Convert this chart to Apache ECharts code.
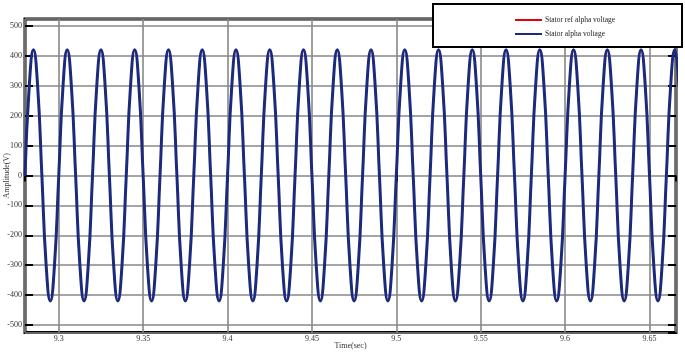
<!DOCTYPE html>
<html>
<head>
<meta charset="utf-8">
<script src="https://cdn.jsdelivr.net/npm/echarts@6/dist/echarts.min.js"></script>
<style>
html,body{margin:0;padding:0;background:#fff;}
#chart{width:685px;height:354px;}
</style>
</head>
<body>
<div id="chart"></div>
<script>
// sample times (s)
const timeSec = [
9.28,9.2825,9.285,9.2875,9.29,9.2925,9.295,9.2975,
9.30,9.3025,9.305,9.3075,9.31,9.3125,9.315,9.3175,
9.32,9.3225,9.325,9.3275,9.33,9.3325,9.335,9.3375,
9.34,9.3425,9.345,9.3475,9.35,9.3525,9.355,9.3575,
9.36,9.3625,9.365,9.3675,9.37,9.3725,9.375,9.3775,
9.38,9.3825,9.385,9.3875,9.39,9.3925,9.395,9.3975,
9.40,9.4025,9.405,9.4075,9.41,9.4125,9.415,9.4175,
9.42,9.4225,9.425,9.4275,9.43,9.4325,9.435,9.4375,
9.44,9.4425,9.445,9.4475,9.45,9.4525,9.455,9.4575,
9.46,9.4625,9.465,9.4675,9.47,9.4725,9.475,9.4775,
9.48,9.4825,9.485,9.4875,9.49,9.4925,9.495,9.4975,
9.50,9.5025,9.505,9.5075,9.51,9.5125,9.515,9.5175,
9.52,9.5225,9.525,9.5275,9.53,9.5325,9.535,9.5375,
9.54,9.5425,9.545,9.5475,9.55,9.5525,9.555,9.5575,
9.56,9.5625,9.565,9.5675,9.57,9.5725,9.575,9.5775,
9.58,9.5825,9.585,9.5875,9.59,9.5925,9.595,9.5975,
9.60,9.6025,9.605,9.6075,9.61,9.6125,9.615,9.6175,
9.62,9.6225,9.625,9.6275,9.63,9.6325,9.635,9.6375,
9.64,9.6425,9.645,9.6475,9.65,9.6525,9.655,9.6575,
9.66,9.6625,9.665,9.6675
];
// Stator alpha voltage (V)
const statorAlphaVoltage = [
0,297,420,297,0,-297,-420,-297,
0,297,420,297,0,-297,-420,-297,
0,297,420,297,0,-297,-420,-297,
0,297,420,297,0,-297,-420,-297,
0,297,420,297,0,-297,-420,-297,
0,297,420,297,0,-297,-420,-297,
0,297,420,297,0,-297,-420,-297,
0,297,420,297,0,-297,-420,-297,
0,297,420,297,0,-297,-420,-297,
0,297,420,297,0,-297,-420,-297,
0,297,420,297,0,-297,-420,-297,
0,297,420,297,0,-297,-420,-297,
0,297,420,297,0,-297,-420,-297,
0,297,420,297,0,-297,-420,-297,
0,297,420,297,0,-297,-420,-297,
0,297,420,297,0,-297,-420,-297,
0,297,420,297,0,-297,-420,-297,
0,297,420,297,0,-297,-420,-297,
0,297,420,297,0,-297,-420,-297,
0,297,420,297
];
// Stator ref alpha voltage (V): hidden under the measured trace, read as identical
const statorRefAlphaVoltage = statorAlphaVoltage.slice();

const xTickLabels = ['9.3','9.35','9.4','9.45','9.5','9.55','9.6','9.65'];
const yTickLabels = ['-500','-400','-300','-200','-100','0','100','200','300','400','500'];
const seriesNames = ['Stator ref alpha voltage','Stator alpha voltage'];

const FONT = 'Liberation Serif';
const X_MIN = 9.28, X_MAX = 9.6657, Y_MIN = -525, Y_MAX = 523;

function fmtX(v){
  const hit = xTickLabels.find(s => Math.abs(parseFloat(s) - v) < 1e-6);
  return hit || '';
}
function fmtY(v){
  const hit = yTickLabels.find(s => Math.abs(parseFloat(s) - v) < 1e-6);
  return hit || '';
}

const pairs = arr => timeSec.map((t,i)=>[t, arr[i]]);

const chart = echarts.init(document.getElementById('chart'), null, {renderer:'canvas'});
const option = {
  animation:false,
  backgroundColor:'#fff',
  grid:{left:25, top:19, width:651, height:313.5, containLabel:false, outerBoundsMode:'none',
        show:true, borderColor:'#000', borderWidth:3, backgroundColor:'#fff'},
  legend:{
    orient:'vertical', left:515, top:16, padding:0, itemGap:6,
    itemWidth:27, itemHeight:2, icon:'rect', z:10,
    data:seriesNames,
    textStyle:{fontFamily:FONT, fontSize:7.5, color:'#222', padding:[0,0,0,-2]}
  },
  graphic:[{
    type:'rect', z:8, shape:{x:433, y:4, width:249, height:43},
    style:{fill:'#fff', stroke:'#000', lineWidth:2}
  }],
  xAxis:[{
    type:'value', min:X_MIN, max:X_MAX, minInterval:0.05, maxInterval:0.05,
    name:'Time(sec)', nameLocation:'middle', nameGap:9, nameMoveOverlap:false,
    nameTextStyle:{fontFamily:FONT, fontSize:8, color:'#333', verticalAlign:'top'},
    axisLine:{show:false},
    axisTick:{show:true, inside:true, length:5, lineStyle:{color:'#000', width:2}},
    axisLabel:{fontFamily:FONT, fontSize:8, color:'#333', margin:2, showMinLabel:false, showMaxLabel:false, formatter:fmtX},
    splitLine:{show:true, lineStyle:{color:'#878787', width:1.6}}
  },{
    type:'value', position:'top', min:X_MIN, max:X_MAX, minInterval:0.05, maxInterval:0.05,
    axisLine:{show:false},
    axisTick:{show:true, inside:true, length:6, lineStyle:{color:'#000', width:2}},
    axisLabel:{show:false}, splitLine:{show:false}
  }],
  yAxis:[{
    type:'value', min:Y_MIN, max:Y_MAX, minInterval:100, maxInterval:100,
    name:'Amplitude(V)', nameLocation:'middle', nameGap:14, nameRotate:90, nameMoveOverlap:false,
    nameTextStyle:{fontFamily:FONT, fontSize:8, color:'#333'},
    axisLine:{show:false},
    axisTick:{show:true, inside:true, length:8, lineStyle:{color:'#000', width:2}},
    axisLabel:{fontFamily:FONT, fontSize:8, color:'#333', margin:3, showMinLabel:false, showMaxLabel:false, formatter:fmtY},
    splitLine:{show:true, lineStyle:{color:'#878787', width:1.6}}
  },{
    type:'value', position:'right', min:Y_MIN, max:Y_MAX, minInterval:100, maxInterval:100,
    axisLine:{show:false},
    axisTick:{show:true, inside:true, length:8, lineStyle:{color:'#000', width:2}},
    axisLabel:{show:false}, splitLine:{show:false}
  }],
  series:[{
    name:seriesNames[0], type:'line', data:pairs(statorRefAlphaVoltage),
    xAxisIndex:0, yAxisIndex:0, smooth:0.5, symbol:'none', clip:true,
    itemStyle:{color:'#e3000f'}, lineStyle:{color:'#e3000f', width:1.5}, z:2
  },{
    name:seriesNames[1], type:'line', data:pairs(statorAlphaVoltage),
    xAxisIndex:0, yAxisIndex:0, smooth:0.5, symbol:'none', clip:true,
    itemStyle:{color:'#1b2a7c'}, lineStyle:{color:'#1b2a7c', width:3}, z:3
  }]
};
chart.setOption(option);
</script>
</body>
</html>
